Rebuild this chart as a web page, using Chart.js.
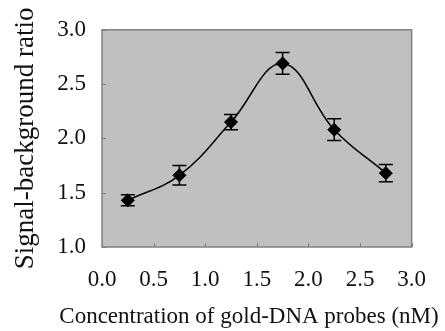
<!DOCTYPE html>
<html lang="en">
<head>
    <meta charset="UTF-8">
    <title>Signal-background ratio</title>
    <script src="https://cdn.jsdelivr.net/npm/chart.js"></script>
    <style>
        html, body {
            margin: 0;
            padding: 0;
            background: #fff;
        }

        #wrap {
            width: 445px;
            height: 331px;
        }
    </style>
</head>
<body>

    <div id="wrap"><canvas id="grafica" width="445" height="331"></canvas></div>

<script>
        // Data
        const concentration = [0.25, 0.75, 1.25, 1.75, 2.25, 2.75];
        const ratio = [1.43, 1.66, 2.15, 2.69, 2.08, 1.68];
        const ratioErr = [0.05, 0.09, 0.07, 0.10, 0.10, 0.08];
        const xTicks = [0.0, 0.5, 1.0, 1.5, 2.0, 2.5, 3.0];
        const yTicks = [1.0, 1.5, 2.0, 2.5, 3.0];
        const xTitle = 'Concentration of gold-DNA probes (nM)';

        const serif = "'Liberation Serif', 'Times New Roman', serif";

        // Gray plot area, frame, inward ticks, error bars and the x title
        const plotExtras = {
            id: 'plotExtras',
            beforeDatasetsDraw(chart) {
                const { ctx, chartArea: a } = chart;
                ctx.save();
                ctx.fillStyle = '#c0c0c0';
                ctx.fillRect(a.left, a.top, a.right - a.left, a.bottom - a.top);
                ctx.strokeStyle = '#808080';
                ctx.lineWidth = 1.5;
                ctx.strokeRect(a.left, a.top, a.right - a.left, a.bottom - a.top);

                const xs = chart.scales.x, ys = chart.scales.y;
                ctx.lineWidth = 1;
                ctx.beginPath();
                xTicks.forEach(v => {
                    const px = Math.round(xs.getPixelForValue(v)) + 0.5;
                    ctx.moveTo(px, a.bottom);
                    ctx.lineTo(px, a.bottom - 4);
                });
                yTicks.forEach(v => {
                    const py = Math.round(ys.getPixelForValue(v)) + 0.5;
                    ctx.moveTo(a.left, py);
                    ctx.lineTo(a.left + 4, py);
                });
                ctx.stroke();
                ctx.restore();
            },
            afterDatasetsDraw(chart) {
                const { ctx } = chart;
                const xs = chart.scales.x, ys = chart.scales.y;
                ctx.save();
                ctx.strokeStyle = '#000';
                ctx.lineWidth = 1.5;
                ctx.beginPath();
                concentration.forEach((c, i) => {
                    const px = xs.getPixelForValue(c);
                    const top = ys.getPixelForValue(ratio[i] + ratioErr[i]);
                    const bot = ys.getPixelForValue(ratio[i] - ratioErr[i]);
                    ctx.moveTo(px, top);
                    ctx.lineTo(px, bot);
                    ctx.moveTo(px - 7, top);
                    ctx.lineTo(px + 7, top);
                    ctx.moveTo(px - 7, bot);
                    ctx.lineTo(px + 7, bot);
                });
                ctx.stroke();

                // x axis title, drawn here so it is not squeezed to the axis width
                ctx.fillStyle = '#111';
                ctx.font = '23px ' + serif;
                ctx.textAlign = 'center';
                ctx.textBaseline = 'middle';
                ctx.fillText(xTitle, 249, 317);
                ctx.restore();
            }
        };

        const ctx = document.getElementById('grafica').getContext('2d');
        const grafica = new Chart(ctx, {
            type: 'line',
            data: {
                datasets: [{
                    data: concentration.map((c, i) => ({ x: c, y: ratio[i] })),
                    borderColor: '#000',
                    borderWidth: 1.5,
                    tension: 0.4,
                    fill: false,
                    pointStyle: 'rectRot',
                    pointRadius: 6.5,
                    pointBackgroundColor: '#000',
                    pointBorderColor: '#000',
                    pointBorderWidth: 1
                }]
            },
            options: {
                animation: false,
                responsive: false,
                layout: {
                    padding: { top: 22, right: 30, left: 0, bottom: 0 }
                },
                plugins: {
                    legend: { display: false },
                    tooltip: { enabled: false }
                },
                scales: {
                    x: {
                        type: 'linear',
                        min: 0,
                        max: 3,
                        afterBuildTicks(scale) {
                            scale.ticks = xTicks.map(v => ({ value: v }));
                        },
                        afterFit(scale) {
                            scale.height = 84;
                        },
                        grid: { display: false, drawTicks: false },
                        border: { display: false },
                        ticks: {
                            padding: 19,
                            color: '#111',
                            font: { family: serif, size: 23 },
                            callback: v => v.toFixed(1)
                        }
                    },
                    y: {
                        type: 'linear',
                        min: 1,
                        max: 3,
                        afterBuildTicks(scale) {
                            scale.ticks = yTicks.map(v => ({ value: v }));
                        },
                        afterFit(scale) {
                            scale.width = 102;
                        },
                        grid: { display: false, drawTicks: false },
                        border: { display: false },
                        ticks: {
                            padding: 16,
                            color: '#111',
                            font: { family: serif, size: 23 },
                            callback: v => v.toFixed(1)
                        },
                        title: {
                            display: true,
                            text: 'Signal-background ratio',
                            color: '#111',
                            font: { family: serif, size: 27 },
                            padding: { top: 10, bottom: 0 }
                        }
                    }
                }
            },
            plugins: [plotExtras]
        });
    </script>

</body>
</html>
